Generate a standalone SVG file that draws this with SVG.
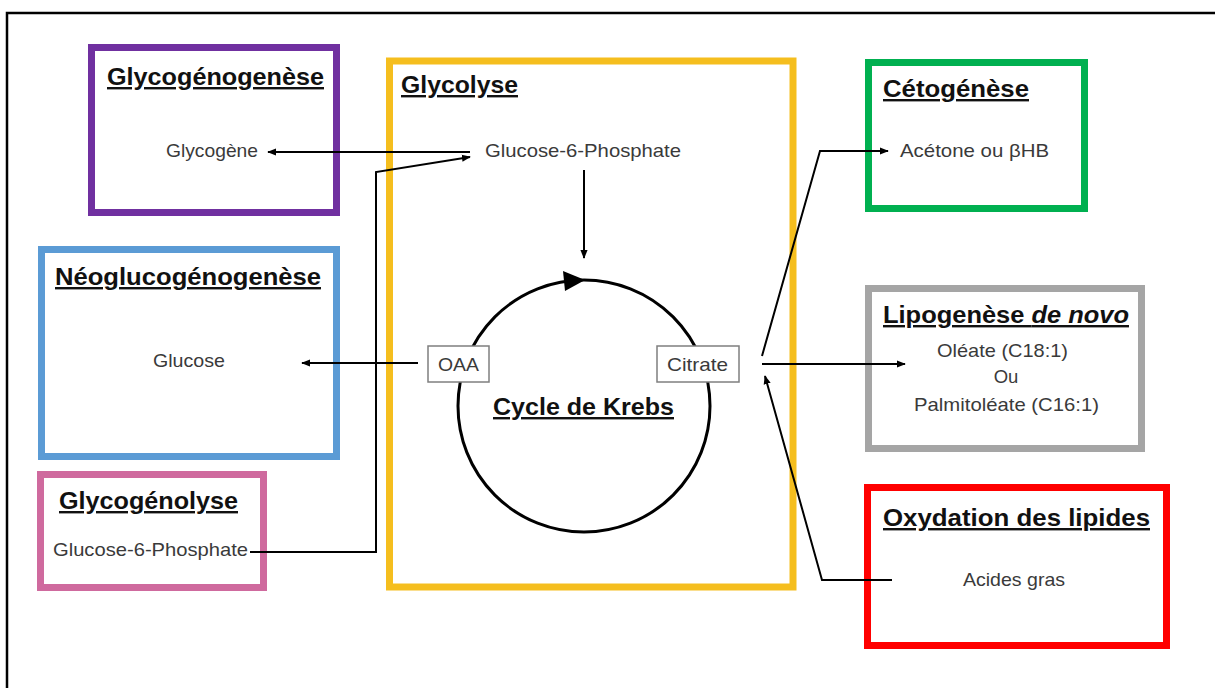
<svg xmlns="http://www.w3.org/2000/svg" width="1215" height="688" viewBox="0 0 1215 688">
<defs>
<style>
.box{fill:none;stroke-width:7}
.title{font-family:"Liberation Sans",Arial,sans-serif;font-weight:bold;font-size:24px;fill:#111;text-decoration:underline}
.body{font-family:"Liberation Sans",Arial,sans-serif;font-size:18.5px;fill:#3a3a3a}
.conn{fill:none;stroke:#000;stroke-width:2}
.tag{fill:#fff;stroke:#7f7f7f;stroke-width:1.5}
</style>
<marker id="ah" viewBox="0 0 10 10" refX="9" refY="5" markerWidth="9" markerHeight="9" markerUnits="userSpaceOnUse" orient="auto">
<path d="M0,1 L10,5 L0,9 z" fill="#000"/>
</marker>
</defs>
<rect width="1215" height="688" fill="#fff"/>
<path d="M7,688 V13 H1215" fill="none" stroke="#000" stroke-width="2.5"/>

<g id="glycogenogenese">
<rect class="box" x="91.5" y="47.5" width="245" height="165" stroke="#7030A0"/>
<text class="title" x="107" y="85" textLength="217" lengthAdjust="spacingAndGlyphs">Glycogénogenèse</text>
<text class="body" x="166" y="157" textLength="92" lengthAdjust="spacingAndGlyphs">Glycogène</text>
</g>

<g id="neoglucogenese">
<rect class="box" x="41.5" y="249.5" width="295" height="207" stroke="#5B9BD5"/>
<text class="title" x="55" y="285" textLength="266" lengthAdjust="spacingAndGlyphs">Néoglucogénogenèse</text>
<text class="body" x="153" y="367" textLength="72" lengthAdjust="spacingAndGlyphs">Glucose</text>
</g>

<g id="glycogenolyse">
<rect class="box" x="40.5" y="474.5" width="223" height="113" stroke="#CF6A9E"/>
<text class="title" x="59" y="509" textLength="179" lengthAdjust="spacingAndGlyphs">Glycogénolyse</text>
<text class="body" x="53" y="556" textLength="195" lengthAdjust="spacingAndGlyphs">Glucose-6-Phosphate</text>
</g>

<g id="glycolyse">
<rect class="box" x="389.5" y="61" width="403.5" height="526" stroke="#F5BE1E"/>
<text class="title" x="401" y="93" textLength="117" lengthAdjust="spacingAndGlyphs">Glycolyse</text>
<text class="body" x="485" y="157" textLength="196" lengthAdjust="spacingAndGlyphs">Glucose-6-Phosphate</text>
</g>

<g id="krebs">
<circle cx="584" cy="406" r="126" fill="none" stroke="#000" stroke-width="3"/>
<polygon points="585,280 563,271 565,291" fill="#000"/>
<text class="title" x="493" y="415" textLength="181" lengthAdjust="spacingAndGlyphs">Cycle de Krebs</text>
</g>

<g id="oaa">
<rect class="tag" x="428" y="346" width="61" height="36"/>
<text class="body" x="438" y="371" textLength="41" lengthAdjust="spacingAndGlyphs">OAA</text>
</g>

<g id="citrate">
<rect class="tag" x="657" y="346" width="82" height="36"/>
<text class="body" x="667" y="371" textLength="61" lengthAdjust="spacingAndGlyphs">Citrate</text>
</g>

<g id="cetogenese">
<rect class="box" x="868.5" y="62.5" width="216" height="146" stroke="#00B050"/>
<text class="title" x="883" y="97" textLength="146" lengthAdjust="spacingAndGlyphs">Cétogénèse</text>
<text class="body" x="900" y="157" textLength="149" lengthAdjust="spacingAndGlyphs">Acétone ou βHB</text>
</g>

<g id="lipogenese">
<rect class="box" x="868.5" y="288.5" width="273" height="160" stroke="#A5A5A5"/>
<text class="title" x="883" y="323" textLength="246" lengthAdjust="spacingAndGlyphs">Lipogenèse <tspan font-style="italic">de novo</tspan></text>
<text class="body" x="937" y="357" textLength="131" lengthAdjust="spacingAndGlyphs">Oléate (C18:1)</text>
<text class="body" x="1006" y="383" text-anchor="middle">Ou</text>
<text class="body" x="914" y="411" textLength="185" lengthAdjust="spacingAndGlyphs">Palmitoléate (C16:1)</text>
</g>

<g id="oxydation">
<rect class="box" x="867.5" y="487.5" width="299" height="158" stroke="#FF0000"/>
<text class="title" x="883" y="526" textLength="267" lengthAdjust="spacingAndGlyphs">Oxydation des lipides</text>
<text class="body" x="963" y="586" textLength="102" lengthAdjust="spacingAndGlyphs">Acides gras</text>
</g>

<g id="connectors">
<path class="conn" d="M470,152 H268" marker-end="url(#ah)"/>
<path class="conn" d="M250,552 H376 V172 L470,157" marker-end="url(#ah)"/>
<path class="conn" d="M584,170 V258" marker-end="url(#ah)"/>
<path class="conn" d="M418,363 H302" marker-end="url(#ah)"/>
<path class="conn" d="M762,356 L820,151 H888" marker-end="url(#ah)"/>
<path class="conn" d="M762,364 H905" marker-end="url(#ah)"/>
<path class="conn" d="M892,580 H822 L765,376" marker-end="url(#ah)"/>
</g>
</svg>
